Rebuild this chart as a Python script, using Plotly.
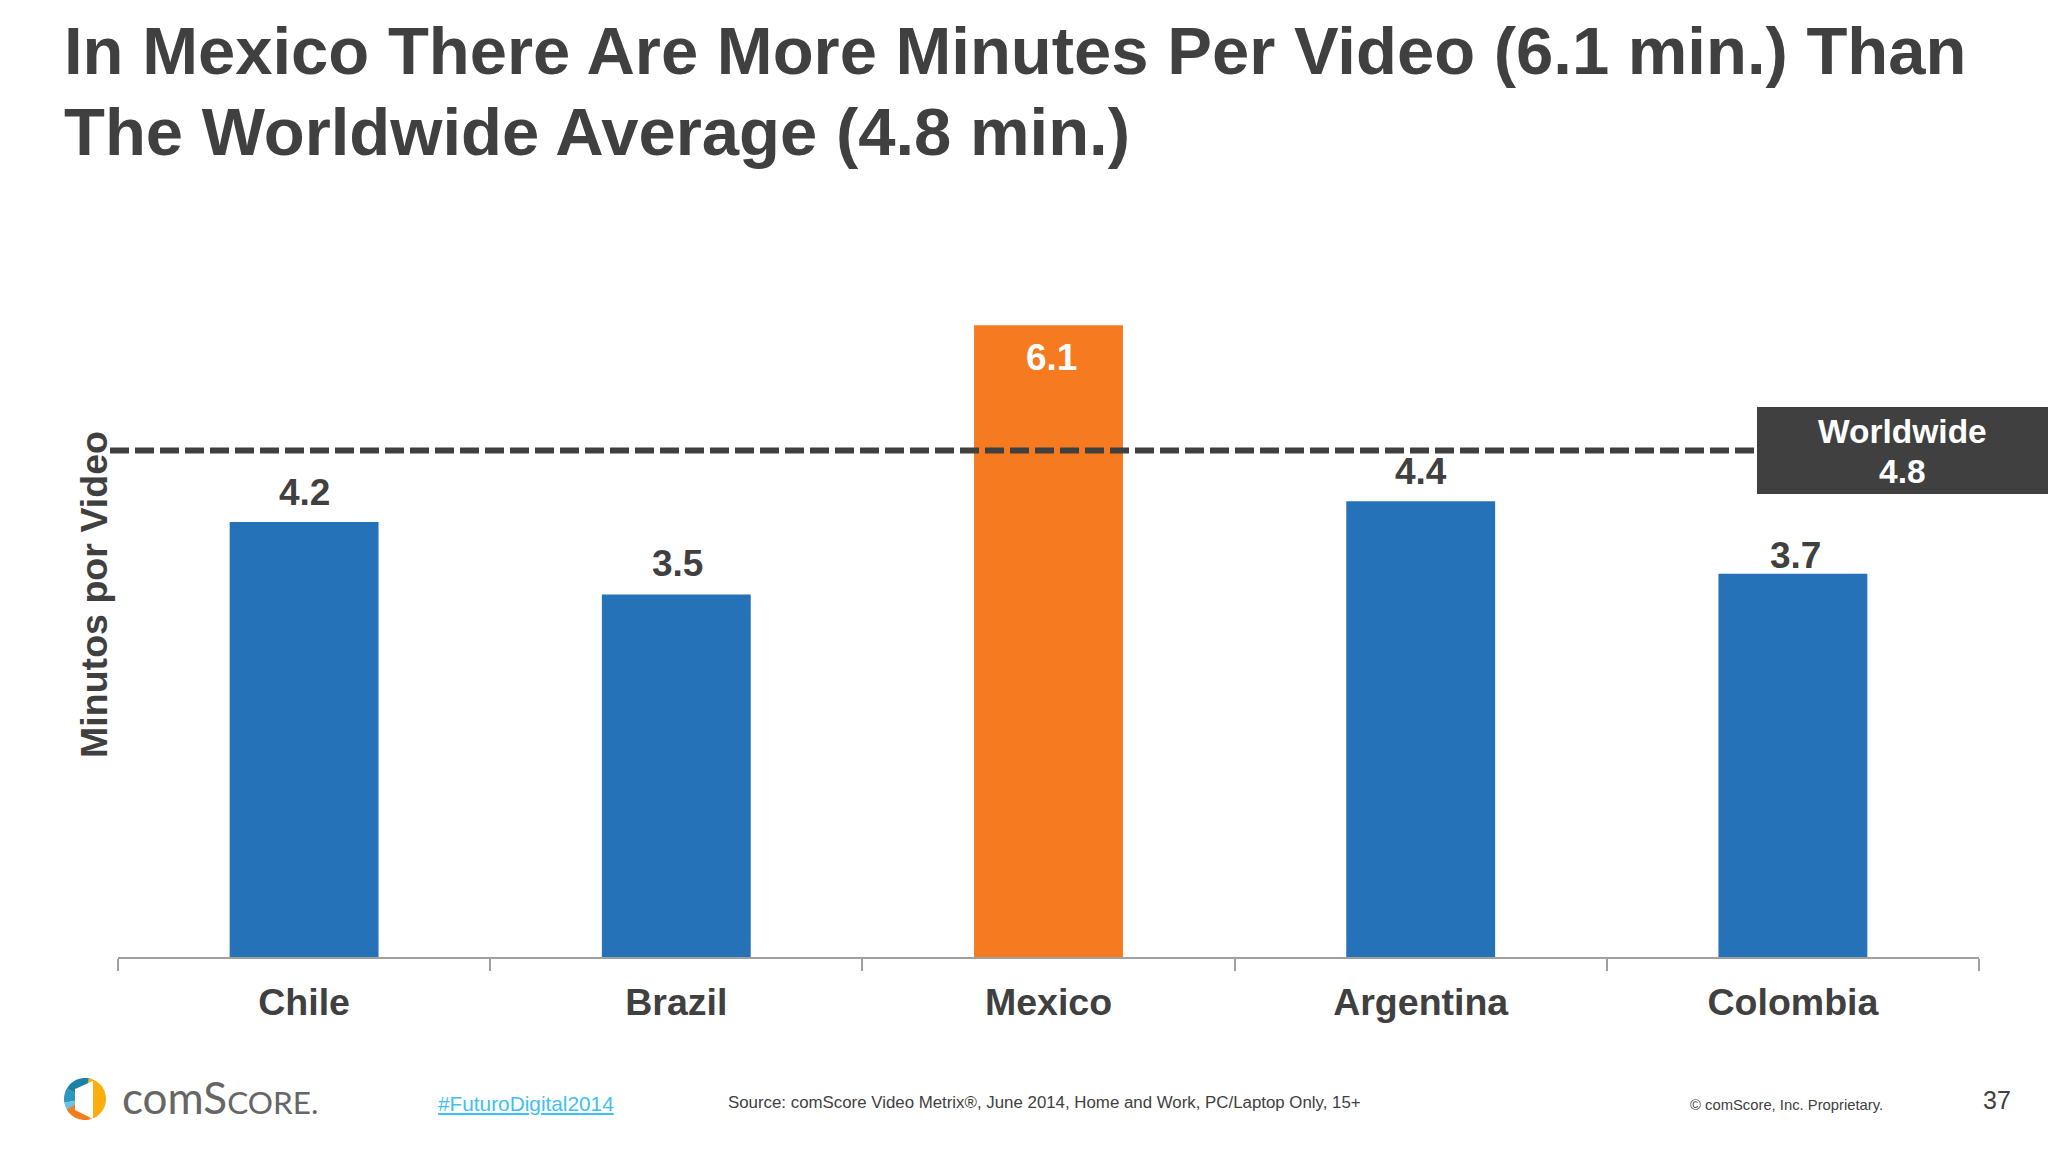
import numpy as np
import plotly.graph_objects as go

# ── Data ──────────────────────────────────────────────────────────────────────

countries = ["Chile", "Brazil", "Mexico", "Argentina", "Colombia"]
minutes = [4.2, 3.5, 6.1, 4.4, 3.7]
highlight = "Mexico"

worldwide_label = "4.8"
worldwide_line = 4.89  # the slide draws its dashed line here, a bit above 4.8

title_lines = [
    "In Mexico There Are More Minutes Per Video (6.1 min.) Than",
    "The Worldwide Average (4.8 min.)",
]

# ── Layout constants (page pixels) ────────────────────────────────────────────

W, H = 2048, 1152
PLOT_L, PLOT_R, PLOT_T, PLOT_B = 118, 1979, 232, 957
FONT = "Liberation Sans, Arial, sans-serif"
DARK = "#404040"
BLUE = "#2672B8"
ORANGE = "#F57A20"


def px(x):
    return (x - PLOT_L) / (PLOT_R - PLOT_L)


def py(y):
    return 1 - (y - PLOT_T) / (PLOT_B - PLOT_T)


def page_text(text, x, y, size, color=DARK, bold=False, anchor="center", family=FONT, weight=None):
    return dict(
        text=text, xref="paper", yref="paper", x=px(x), y=py(y),
        xanchor=anchor, yanchor="middle", showarrow=False,
        font=dict(family=family, size=size, color=color,
                  weight=weight if weight else ("bold" if bold else "normal")),
    )


def wedge(a0, a1, color, cx=85, cy=1099, r=21):
    """Pie slice of the logo, angles in degrees clockwise from 12 o'clock."""
    angles = np.radians(np.linspace(a0, a1, 24))
    pts = [(cx, cy)] + [(cx + r * np.sin(a), cy - r * np.cos(a)) for a in angles]
    path = "M " + " L ".join(f"{px(x):.5f},{py(y):.5f}" for x, y in pts) + " Z"
    return dict(type="path", xref="paper", yref="paper", path=path,
                fillcolor=color, line=dict(width=0))


def polygon(pts, color):
    path = "M " + " L ".join(f"{px(x):.5f},{py(y):.5f}" for x, y in pts) + " Z"
    return dict(type="path", xref="paper", yref="paper", path=path,
                fillcolor=color, line=dict(width=0))


# ── Figure ────────────────────────────────────────────────────────────────────

fig = go.Figure()

fig.add_trace(go.Bar(
    x=countries,
    y=minutes,
    width=0.4,
    marker=dict(color=[ORANGE if c == highlight else BLUE for c in countries], line=dict(width=0)),
    showlegend=False,
))

annotations = []

# value labels, Mexico's sits inside its bar and Colombia's hugs the bar
label_shift = {"Chile": 30, "Brazil": 31, "Mexico": -32, "Argentina": 30, "Colombia": 18}
label_nudge = {"Chile": 0, "Brazil": 1, "Mexico": 3, "Argentina": 0, "Colombia": 3}
for country, value in zip(countries, minutes):
    annotations.append(dict(
        text=f"{value:.1f}", x=country, y=value, xref="x", yref="y",
        xanchor="center", yanchor="middle", showarrow=False,
        yshift=label_shift[country], xshift=label_nudge[country],
        font=dict(family=FONT, size=37, color="#FFFFFF" if country == highlight else DARK, weight="bold"),
    ))

for line, y in zip(title_lines, (51, 132)):
    annotations.append(page_text(line, 62, y, 67, bold=True, anchor="left"))

annotations += [
    page_text("Worldwide", 1902, 431, 33.5, color="#FFFFFF", bold=True),
    page_text(worldwide_label, 1902, 471, 33.5, color="#FFFFFF", bold=True),
    page_text('com<span style="font-size:44px">S</span><span style="font-size:31.5px">CORE.</span>',
              120, 1097, 44, color="#666666", anchor="left", family="Lato, sans-serif", weight=400),
    page_text("<u>#FuturoDigital2014</u>", 526, 1103, 20.8, color="#3FC0F0"),
    page_text("Source: comScore Video Metrix®, June 2014, Home and Work, PC/Laptop Only, 15+", 726, 1102, 16.85, anchor="left"),
    page_text("© comScore, Inc. Proprietary.", 1786, 1105, 14.8),
    page_text("37", 1997, 1100, 25),
]

shapes = [
    # worldwide reference line and its tag
    dict(type="line", xref="paper", yref="y", x0=px(110), x1=px(1757), y0=worldwide_line, y1=worldwide_line,
         line=dict(color=DARK, width=6, dash="19px,6px"), layer="above"),
    dict(type="rect", xref="paper", yref="paper", x0=px(1757), x1=px(W), y0=py(407), y1=py(494),
         fillcolor=DARK, line=dict(width=0), layer="above"),
    # logo
    wedge(-100, -60, "#2E97BE"),
    wedge(-60, 20, "#1B82A6"),
    wedge(-135, -100, "#6FC1E2"),
    wedge(10, 165, "#FCAE10"),
    wedge(165, 240, "#F27B1E"),
    polygon([(75, 1089), (93, 1081), (93, 1119), (75, 1110)], "#FFFFFF"),
]

fig.update_layout(
    width=W,
    height=H,
    margin=dict(l=PLOT_L, r=W - PLOT_R, t=PLOT_T, b=H - PLOT_B, autoexpand=False),
    paper_bgcolor="#FFFFFF",
    plot_bgcolor="#FFFFFF",
    font=dict(family=FONT, color=DARK),
    xaxis=dict(
        type="category",
        range=[-0.5, 4.5],
        tickson="boundaries",
        ticks="outside",
        ticklen=12,
        tickwidth=2,
        tickcolor="#A0A0A0",
        showline=True,
        linecolor="#A0A0A0",
        linewidth=2,
        showgrid=False,
        ticklabelstandoff=11,
        tickfont=dict(family=FONT, size=37.5, color=DARK, weight="bold"),
    ),
    yaxis=dict(
        range=[0, 7],
        anchor="free",
        position=0.007,  # pulls the axis title in against the dashed line
        showticklabels=False,
        showgrid=False,
        zeroline=False,
        showline=False,
        ticks="",
        title=dict(text="Minutos por Video", standoff=10,
                   font=dict(family=FONT, size=37.6, color=DARK, weight="bold")),
    ),
    annotations=annotations,
    shapes=shapes,
)

fig.write_html("out.html", config={"displayModeBar": False},
               post_script="document.body.style.margin='0';")
